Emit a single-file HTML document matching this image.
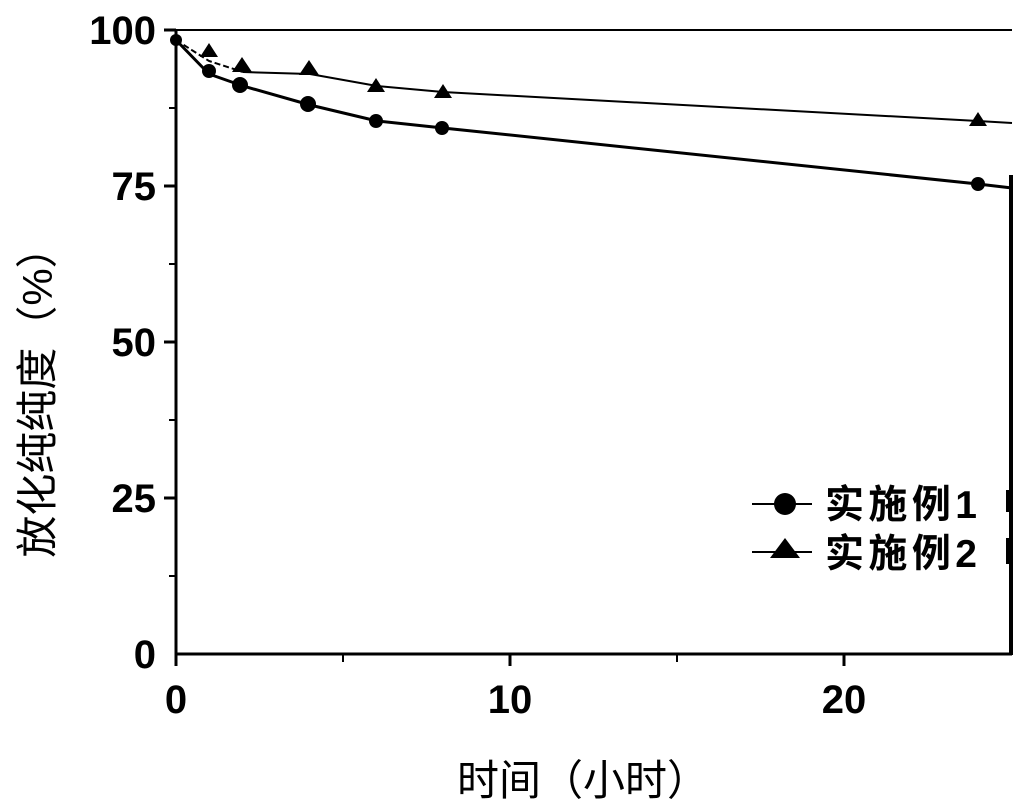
<!DOCTYPE html><html><head><meta charset="utf-8"><style>body{margin:0;background:#fff}svg{display:block}</style></head><body>
<svg width="1025" height="808" xmlns="http://www.w3.org/2000/svg" font-family="Liberation Sans, Noto Sans CJK SC, sans-serif">
<rect width="1025" height="808" fill="#fff"/>
<g stroke="#000" fill="none">
<line x1="176" y1="30" x2="1012" y2="30" stroke-width="2"/>
<line x1="176" y1="30" x2="176" y2="655" stroke-width="3"/>
<line x1="175" y1="654" x2="1012" y2="654" stroke-width="3"/>
<line x1="1011" y1="175" x2="1011" y2="655" stroke-width="4"/>
<g stroke-width="3">
<line x1="164" y1="30" x2="176" y2="30"/><line x1="164" y1="186" x2="176" y2="186"/><line x1="164" y1="342" x2="176" y2="342"/><line x1="164" y1="498" x2="176" y2="498"/>
<line x1="176" y1="654" x2="176" y2="666"/><line x1="510" y1="654" x2="510" y2="666"/><line x1="844" y1="654" x2="844" y2="666"/>
</g>
<g stroke-width="2">
<line x1="169" y1="108" x2="176" y2="108"/><line x1="169" y1="264" x2="176" y2="264"/><line x1="169" y1="420" x2="176" y2="420"/><line x1="169" y1="576" x2="176" y2="576"/>
<line x1="343" y1="654" x2="343" y2="662"/><line x1="677" y1="654" x2="677" y2="662"/>
</g>
<polyline stroke-width="2" stroke-dasharray="6,3" points="176,40 209,61 243,72"/>
<polyline stroke-width="2" points="243,72 310,74 377,86 443,92 978,121 1012,123"/>
<polyline stroke-width="3" points="176,40 209,74 243,86 310,105 377,121 443,128 978,184 1012,188"/>
<line x1="752" y1="504" x2="812" y2="504" stroke-width="2"/>
<line x1="752" y1="552" x2="812" y2="552" stroke-width="2"/>
<line x1="1008" y1="490" x2="1008" y2="512" stroke-width="4"/>
<line x1="1008" y1="538" x2="1008" y2="564" stroke-width="4"/>
</g>
<g fill="#000">
<circle cx="176" cy="40" r="6"/><circle cx="209" cy="71" r="7"/><circle cx="240" cy="85" r="8"/><circle cx="308" cy="104" r="8"/><circle cx="376" cy="121" r="7"/><circle cx="442" cy="128" r="7"/><circle cx="978" cy="184" r="7"/>
<path d="M209,43l-9,14h18z M242,57l-10,15h20z M309,60l-10,15h20z M376,78l-9,14h18z M443,84l-9,14h18z M978,112l-9,14h18z"/>
<circle cx="785" cy="504" r="11"/>
<path d="M785,538l-15,20h30z"/>
</g>
<g font-weight="bold" font-size="40" text-anchor="end">
<text x="156" y="44">100</text><text x="156" y="200">75</text><text x="156" y="356">50</text><text x="156" y="512">25</text><text x="156" y="668">0</text>
</g>
<g font-weight="bold" font-size="40" text-anchor="middle">
<text x="176" y="713">0</text><text x="510" y="713">10</text><text x="844" y="713">20</text>
</g>
<g font-weight="bold" font-size="39">
<text x="825" y="518" textLength="152">实施例1</text><text x="825" y="567" textLength="152">实施例2</text>
</g>
<text x="583" y="795" font-size="42" text-anchor="middle">时间（小时）</text>
<text transform="translate(52,392) rotate(-90)" font-size="42" text-anchor="middle">放化纯纯度（%）</text>
</svg>
</body></html>
